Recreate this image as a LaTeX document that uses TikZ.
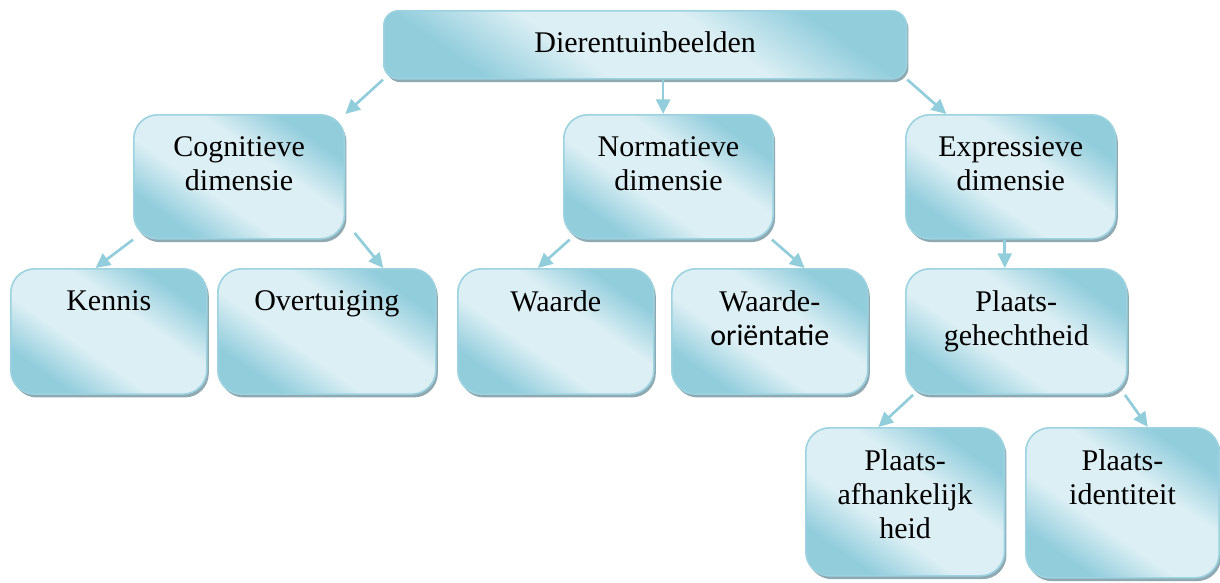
\documentclass[tikz,border=0pt]{standalone}
\usepackage{fontspec}
\setmainfont{Liberation Serif}
\newfontfamily\calibri{Carlito}
\usetikzlibrary{arrows.meta,shadows}

\definecolor{donker}{HTML}{92CDDC}
\definecolor{licht}{HTML}{DCEFF4}
\definecolor{rand}{HTML}{9DD2E0}
\definecolor{schaduw}{HTML}{8EA9B2}

\pgfdeclareverticalshading{glans}{100bp}{color(0bp)=(donker); color(27bp)=(donker);
	color(41bp)=(licht); color(59bp)=(licht); color(73bp)=(donker); color(100bp)=(donker)}

\tikzset{
	kader/.style={draw=rand, line width=1.2pt, rounded corners=18pt, anchor=north west,
		shading=glans, shading angle=-35,
		drop shadow={shadow xshift=1.5pt, shadow yshift=-2.5pt, fill=schaduw, opacity=1}},
	tekst/.style={anchor=north, inner sep=0pt, align=center, yshift=-17pt,
		font=\fontsize{22.5}{25.5}\selectfont},
	pijl/.style={draw=donker, line width=2pt, -{Triangle[length=11pt, width=10.5pt]}}
}

\begin{document}
\begin{tikzpicture}[x=0.75pt, y=-0.75pt]
	\useasboundingbox (0,0) rectangle (1220,582);

	% Bovenste kader
	\node[kader, rounded corners=11pt, minimum width=392pt, minimum height=51pt,
		label={[tekst, yshift=1pt]north:Dierentuinbeelden}] (top) at (383,10) {};

	% Tweede rij
	\node[kader, minimum width=158pt, minimum height=93pt,
		label={[tekst]north:Cognitieve\\dimensie}] (cog) at (133,114) {};
	\node[kader, minimum width=157pt, minimum height=93pt,
		label={[tekst]north:Normatieve\\dimensie}] (nor) at (563,114) {};
	\node[kader, minimum width=157.5pt, minimum height=93pt,
		label={[tekst]north:Expressieve\\dimensie}] (exp) at (905,114) {};

	% Derde rij
	\node[kader, minimum width=147pt, minimum height=94pt,
		label={[tekst]north:Kennis}] (ken) at (10,268) {};
	\node[kader, minimum width=163.5pt, minimum height=94pt,
		label={[tekst]north:Overtuiging}] (ove) at (217,268) {};
	\node[kader, minimum width=147pt, minimum height=94pt,
		label={[tekst]north:Waarde}] (waa) at (457,268) {};
	\node[kader, minimum width=147pt, minimum height=94pt,
		label={[tekst]north:Waarde-\\{\calibri oriëntatie}}] (wor) at (671,268) {};
	\node[kader, minimum width=165.75pt, minimum height=94pt,
		label={[tekst]north:Plaats-\\gehechtheid}] (pge) at (905,268) {};

	% Vierde rij
	\node[kader, minimum width=149pt, minimum height=111pt,
		label={[tekst]north:Plaats-\\afhankelijk\\heid}] (paf) at (805,427) {};
	\node[kader, minimum width=145pt, minimum height=112.5pt,
		label={[tekst]north:Plaats-\\identiteit}] (pid) at (1025,427) {};

	% Pijlen
	\draw[pijl] (top.south west) -- (cog.north east);
	\draw[pijl] ([xshift=-4pt]nor.north |- top.south) -- ([xshift=-4pt]nor.north);
	\draw[pijl] (top.south east) -- ([xshift=31pt]exp.north west);
	\draw[pijl] (cog.south west) -- ([xshift=-10pt]ken.north);
	\draw[pijl] ([xshift=7pt, yshift=5pt]cog.south east) -- ([xshift=-40pt]ove.north east);
	\draw[pijl] ([xshift=5pt]nor.south west) -- ([xshift=-13.5pt]waa.north);
	\draw[pijl] ([xshift=-1.5pt]nor.south east) -- ([xshift=-48pt]wor.north east);
	\draw[pijl] ([xshift=-4.5pt]exp.south) -- ([xshift=-4.5pt]exp.south |- pge.north);
	\draw[pijl] ([xshift=6pt]pge.south west) -- ([xshift=-20pt]paf.north);
	\draw[pijl] ([xshift=-2pt]pge.south east) -- ([xshift=19pt]pid.north);
\end{tikzpicture}
\end{document}
